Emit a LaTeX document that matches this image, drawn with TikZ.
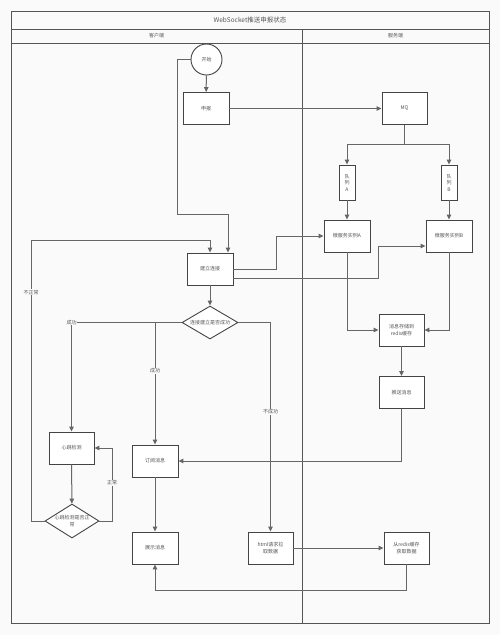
\documentclass[tikz,border=0pt]{standalone}
\usepackage{fontspec}
\newfontfamily\cjk{Noto Sans CJK SC}
\usetikzlibrary{arrows.meta,shapes.geometric}
\definecolor{bgc}{HTML}{FAFAFA}
\definecolor{framec}{HTML}{555555}
\definecolor{boxc}{HTML}{444444}
\definecolor{linec}{HTML}{666666}
\definecolor{txtc}{HTML}{555555}
\tikzset{
  boxnode/.style={draw=boxc, line width=0.9pt, fill=white, minimum width=46pt, minimum height=32pt, inner sep=1pt, align=center, font=\cjk\fontsize{5}{6.5}\selectfont, text=txtc},
  qnode/.style={boxnode, minimum width=16pt, minimum height=35pt},
  decide/.style={draw=boxc, line width=0.9pt, fill=white, diamond, inner sep=0pt, align=center, font=\cjk\fontsize{5}{6.5}\selectfont, text=txtc},
  startnode/.style={draw=boxc, line width=0.9pt, fill=white, circle, minimum size=31pt, inner sep=0pt, font=\cjk\fontsize{5}{6.5}\selectfont, text=txtc},
  conn/.style={draw=linec, line width=1pt, -{Triangle[length=5pt,width=4.5pt]}},
  lbl/.style={fill=bgc, inner sep=0.5pt, font=\cjk\fontsize{5}{6}\selectfont, text=txtc},
  hdr/.style={font=\cjk\fontsize{5}{6}\selectfont, text=txtc},
}
\begin{document}
\begin{tikzpicture}[x=1pt,y=-1pt]
\fill[bgc] (0,0) rectangle (500,635);
\useasboundingbox (0,0) rectangle (500,635);
% frame
\draw[framec, line width=1pt] (11,11) rectangle (489,623);
\draw[framec, line width=1pt] (11,29) -- (489,29);
\draw[framec, line width=1pt] (11,43) -- (489,43);
\draw[framec, line width=1pt] (302,29) -- (302,623);
\node[font=\cjk\fontsize{6.5}{8}\selectfont, text=txtc] (title) at (250,20) {WebSocket推送申报状态};
\node[hdr] (client) at (156.5,36) {客户端};
\node[hdr] (server) at (395.5,36) {服务端};
% nodes
\node[startnode] (start) at (206.5,59.5) {开始};
\node[boxnode] (apply) at (206,108.5) {申报};
\node[boxnode, minimum width=45pt] (mq) at (404.5,108.5) {MQ};
\node[qnode] (qa) at (347,182.5) {队\\列\\A};
\node[qnode] (qb) at (449,182.5) {队\\列\\B};
\node[boxnode] (msa) at (347,236) {微服务实例A};
\node[boxnode] (msb) at (449,236) {微服务实例B};
\node[boxnode] (connect) at (210,269) {建立连接};
\node[decide, minimum width=56pt, minimum height=33pt, aspect=1.7] (dia1) at (210,322.5) {连接建立是否成功};
\node[boxnode, minimum width=45pt] (store) at (401.5,330) {消息存储到\\redis缓存};
\node[boxnode, minimum width=45pt] (push) at (401.5,392.5) {推送消息};
\node[boxnode, minimum width=45pt] (hb) at (71.5,448) {心跳检测};
\node[decide, minimum width=54pt, minimum height=34pt, aspect=1.6] (dia2) at (72,521) {心跳检测是否正\\常};
\node[boxnode] (sub) at (155,461) {订阅消息};
\node[boxnode] (show) at (155,548) {展示消息};
\node[boxnode, minimum width=45pt] (html) at (270.5,548) {html请求拉\\取数据};
\node[boxnode, minimum width=45pt] (redis) at (406.5,548) {从redis缓存\\获取数据};
% coordinates
\coordinate (k1) at (177,214);
\coordinate (k2) at (404.5,144);
\coordinate (k3) at (276,236);
\coordinate (k4) at (378,246);
\coordinate (k5) at (112,448);
\coordinate (k6) at (31,240);
\coordinate (k7) at (155,590);
% connectors
\draw[conn] (start) -- (apply);
\draw[conn] (start.west) -| (k1) -| (connect.north -| 228,0);
\draw[conn] (apply) -- (mq);
\draw[conn] (mq.south) -- (k2) -| (qa.north);
\draw[conn] (k2) -| (qb.north);
\draw[conn] (qa) -- (msa);
\draw[conn] (qb) -- (msb);
\draw[conn] (connect.east) -| (k3) -- (msa.west);
\draw[conn] (connect.east |- 0,278) -| (k4) -- (msb.west |- 0,246);
\draw[conn] (msa.south) |- (store.west);
\draw[conn] (msb.south) |- (store.east);
\draw[conn] (store) -- (push);
\draw[conn] (push.south) |- (sub.east);
\draw[conn] (connect) -- (dia1);
\draw[conn] (dia1.west) -| node[lbl, pos=0.5] {成功} (hb.north);
\draw[conn] (dia1.west) -| node[lbl, pos=0.698] {成功} (sub.north);
\draw[conn] (dia1.east) -| node[lbl, pos=0.714] {不成功} (html.north);
\draw[conn] (hb) -- (dia2);
\draw[conn] (dia2.east) -| node[lbl, pos=0.76] {正常} (k5) -- (hb.east);
\draw[conn] (dia2.west) -| node[lbl, pos=0.907] {不正常} (k6) -| (connect.north);
\draw[conn] (html) -- (redis);
\draw[conn] (redis.south) |- (k7) -- (show.south);
\draw[conn] (sub) -- (show);
\end{tikzpicture}
\end{document}
